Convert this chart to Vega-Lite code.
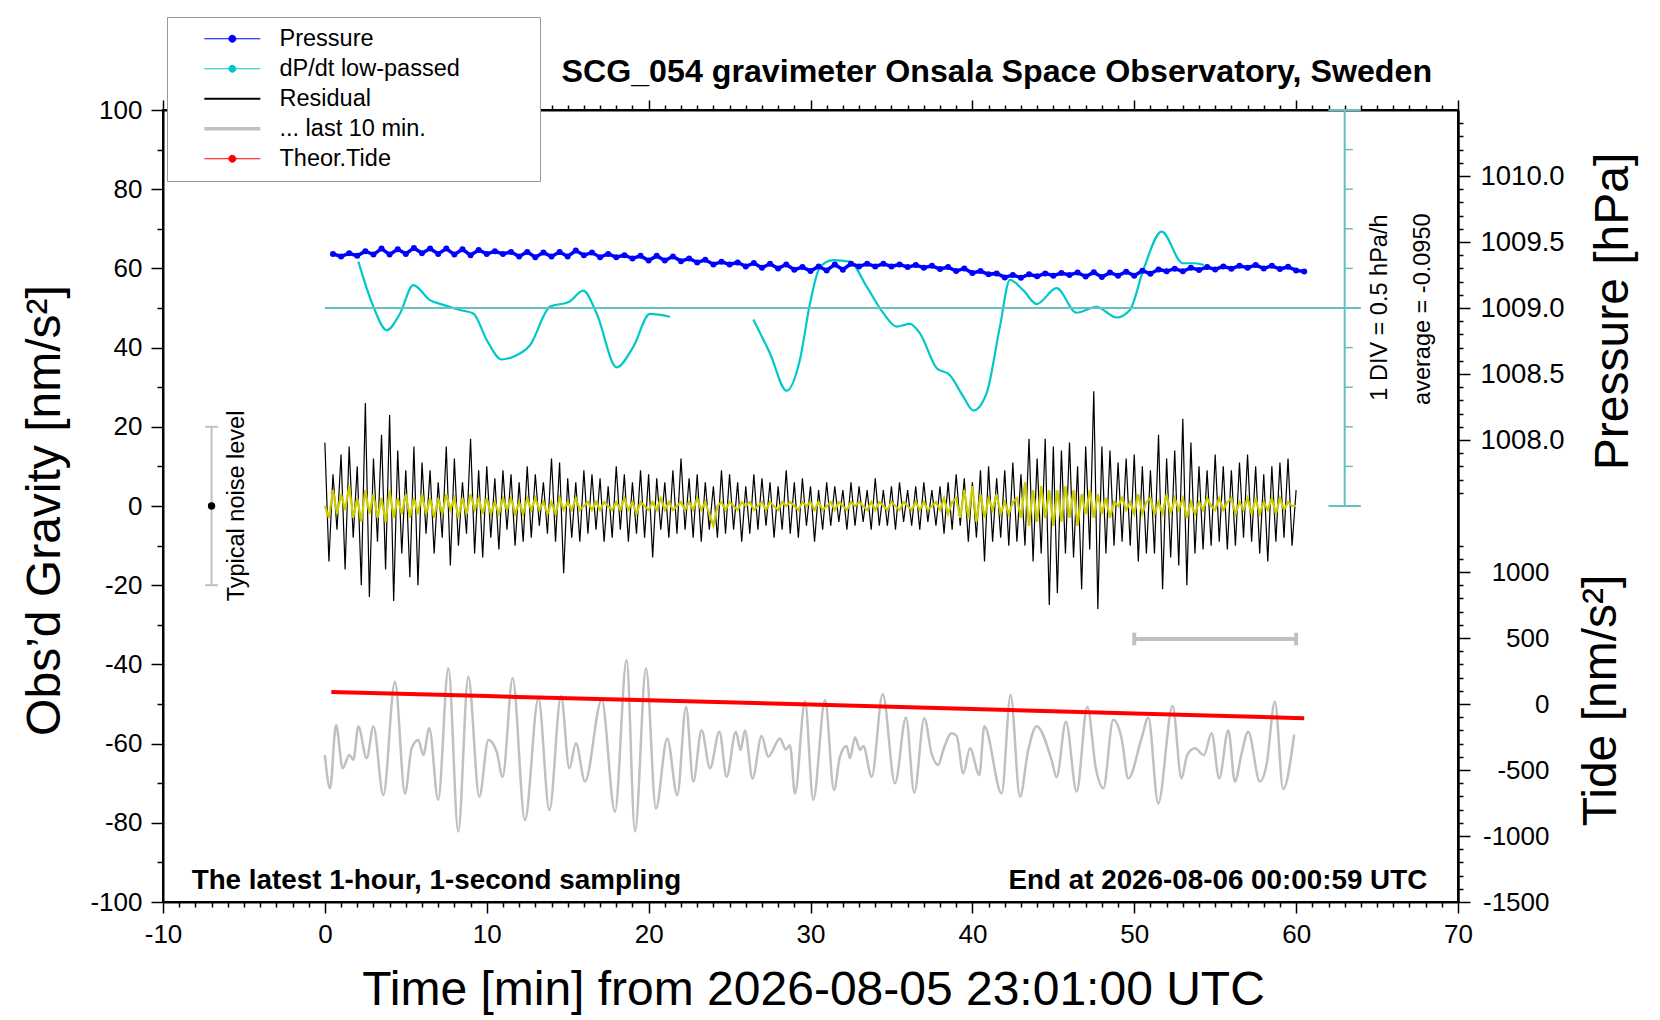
{
  "$schema": "https://vega.github.io/schema/vega-lite/v6.json",
  "width": 1295,
  "height": 792,
  "autosize": {"type": "none"},
  "padding": {"left": 163, "top": 110, "right": 202, "bottom": 118},
  "background": "white",
  "config": {
    "font": "Liberation Sans",
    "view": {"stroke": "black", "strokeWidth": 2},
    "axis": {
      "grid": false, "domainColor": "black", "domainWidth": 2, "tickColor": "black", "tickWidth": 1.5,
      "labelColor": "black", "labelFont": "Liberation Sans", "labelFontSize": 26,
      "titleColor": "black", "titleFont": "Liberation Sans", "titleFontSize": 48, "titleFontWeight": "normal"
    },
    "legend": {"labelFont": "Liberation Sans"}
  },
  "datasets": {
    "resid": [
      {"t":0,"r":16,"f":0},{"t":0.25,"r":-14,"f":-3},{"t":0.5,"r":8,"f":4},{"t":0.75,"r":-6,"f":-2},
      {"t":1,"r":13,"f":3},{"t":1.25,"r":-16,"f":-1},{"t":1.5,"r":15,"f":5},{"t":1.75,"r":-8,"f":-3},
      {"t":2,"r":10,"f":2},{"t":2.25,"r":-20,"f":-4},{"t":2.5,"r":26,"f":4},{"t":2.75,"r":-23,"f":-2},
      {"t":3,"r":12,"f":3},{"t":3.25,"r":-9,"f":-3},{"t":3.5,"r":18,"f":2},{"t":3.75,"r":-16,"f":-4},
      {"t":4,"r":23,"f":4},{"t":4.25,"r":-24,"f":-3},{"t":4.5,"r":14,"f":2},{"t":4.75,"r":-12,"f":-2},
      {"t":5,"r":9,"f":3},{"t":5.25,"r":-18,"f":-3},{"t":5.5,"r":15,"f":2},{"t":5.75,"r":-20,"f":-2},
      {"t":6,"r":11,"f":3},{"t":6.25,"r":-7,"f":-2},{"t":6.5,"r":9,"f":2},{"t":6.75,"r":-12,"f":-3},
      {"t":7,"r":6,"f":2},{"t":7.25,"r":-8,"f":-2},{"t":7.5,"r":15,"f":3},{"t":7.75,"r":-15,"f":-1},
      {"t":8,"r":12,"f":2},{"t":8.25,"r":-10,"f":-3},{"t":8.5,"r":6,"f":2},{"t":8.75,"r":-7,"f":-2},
      {"t":9,"r":17,"f":3},{"t":9.25,"r":-12,"f":-1},{"t":9.5,"r":9,"f":2},{"t":9.75,"r":-13,"f":-2},
      {"t":10,"r":10,"f":2},{"t":10.25,"r":-8,"f":-2},{"t":10.5,"r":7,"f":1},{"t":10.75,"r":-11,"f":-2},
      {"t":11,"r":9,"f":2},{"t":11.25,"r":-6,"f":-1},{"t":11.5,"r":8,"f":2},{"t":11.75,"r":-10,"f":-2},
      {"t":12,"r":6,"f":1},{"t":12.25,"r":-9,"f":-2},{"t":12.5,"r":10,"f":2},{"t":12.75,"r":-8,"f":-1},
      {"t":13,"r":8,"f":2},{"t":13.25,"r":-5,"f":-1},{"t":13.5,"r":6,"f":1},{"t":13.75,"r":-7,"f":-2},
      {"t":14,"r":12,"f":1},{"t":14.25,"r":-9,"f":-2},{"t":14.5,"r":11,"f":2},{"t":14.75,"r":-17,"f":-1},
      {"t":15,"r":7,"f":1},{"t":15.25,"r":-8,"f":-1},{"t":15.5,"r":6,"f":2},{"t":15.75,"r":-9,"f":-1},
      {"t":16,"r":9,"f":0},{"t":16.25,"r":-7,"f":1},{"t":16.5,"r":8,"f":-1},{"t":16.75,"r":-6,"f":1},
      {"t":17,"r":7,"f":-1},{"t":17.25,"r":-9,"f":1},{"t":17.5,"r":5,"f":0},{"t":17.75,"r":-8,"f":-1},
      {"t":18,"r":10,"f":1},{"t":18.25,"r":-6,"f":-1},{"t":18.5,"r":8,"f":2},{"t":18.75,"r":-9,"f":-1},
      {"t":19,"r":6,"f":1},{"t":19.25,"r":-7,"f":-2},{"t":19.5,"r":9,"f":1},{"t":19.75,"r":-8,"f":0},
      {"t":20,"r":8,"f":-1},{"t":20.25,"r":-13,"f":1},{"t":20.5,"r":7,"f":-1},{"t":20.75,"r":-6,"f":2},
      {"t":21,"r":6,"f":-1},{"t":21.25,"r":-8,"f":1},{"t":21.5,"r":9,"f":-1},{"t":21.75,"r":-7,"f":0},
      {"t":22,"r":12,"f":1},{"t":22.25,"r":-6,"f":-1},{"t":22.5,"r":7,"f":1},{"t":22.75,"r":-8,"f":-1},
      {"t":23,"r":8,"f":2},{"t":23.25,"r":-9,"f":-1},{"t":23.5,"r":6,"f":1},{"t":23.75,"r":-6,"f":-2},
      {"t":24,"r":5,"f":-5},{"t":24.25,"r":-8,"f":0},{"t":24.5,"r":9,"f":1},{"t":24.75,"r":-7,"f":-1},
      {"t":25,"r":8,"f":1},{"t":25.25,"r":-6,"f":0},{"t":25.5,"r":6,"f":-1},{"t":25.75,"r":-9,"f":1},
      {"t":26,"r":5,"f":0},{"t":26.25,"r":-7,"f":1},{"t":26.5,"r":8,"f":-1},{"t":26.75,"r":-6,"f":0},
      {"t":27,"r":7,"f":1},{"t":27.25,"r":-5,"f":-1},{"t":27.5,"r":6,"f":1},{"t":27.75,"r":-8,"f":0},
      {"t":28,"r":5,"f":-1},{"t":28.25,"r":-6,"f":1},{"t":28.5,"r":9,"f":0},{"t":28.75,"r":-7,"f":1},
      {"t":29,"r":6,"f":0},{"t":29.25,"r":-8,"f":-1},{"t":29.5,"r":7,"f":1},{"t":29.75,"r":-5,"f":0},
      {"t":30,"r":5,"f":1},{"t":30.25,"r":-9,"f":-1},{"t":30.5,"r":4,"f":1},{"t":30.75,"r":-6,"f":-1},
      {"t":31,"r":6,"f":0},{"t":31.25,"r":-5,"f":1},{"t":31.5,"r":5,"f":-1},{"t":31.75,"r":-4,"f":1},
      {"t":32,"r":4,"f":0},{"t":32.25,"r":-6,"f":-1},{"t":32.5,"r":6,"f":1},{"t":32.75,"r":-5,"f":0},
      {"t":33,"r":5,"f":1},{"t":33.25,"r":-4,"f":0},{"t":33.5,"r":4,"f":-1},{"t":33.75,"r":-6,"f":1},
      {"t":34,"r":7,"f":-1},{"t":34.25,"r":-5,"f":1},{"t":34.5,"r":4,"f":0},{"t":34.75,"r":-5,"f":-1},
      {"t":35,"r":5,"f":1},{"t":35.25,"r":-6,"f":0},{"t":35.5,"r":6,"f":-1},{"t":35.75,"r":-4,"f":1},
      {"t":36,"r":4,"f":0},{"t":36.25,"r":-5,"f":-1},{"t":36.5,"r":5,"f":1},{"t":36.75,"r":-6,"f":-1},
      {"t":37,"r":6,"f":1},{"t":37.25,"r":-4,"f":-1},{"t":37.5,"r":4,"f":0},{"t":37.75,"r":-5,"f":1},
      {"t":38,"r":5,"f":-1},{"t":38.25,"r":-7,"f":2},{"t":38.5,"r":6,"f":-2},{"t":38.75,"r":-6,"f":1},
      {"t":39,"r":8,"f":2},{"t":39.25,"r":-5,"f":-3},{"t":39.5,"r":7,"f":4},{"t":39.75,"r":-9,"f":-3},
      {"t":40,"r":6,"f":5},{"t":40.25,"r":-8,"f":-4},{"t":40.5,"r":9,"f":3},{"t":40.75,"r":-14,"f":-3},
      {"t":41,"r":10,"f":2},{"t":41.25,"r":-9,"f":-1},{"t":41.5,"r":7,"f":3},{"t":41.75,"r":-8,"f":-2},
      {"t":42,"r":9,"f":1},{"t":42.25,"r":-10,"f":-2},{"t":42.5,"r":11,"f":1},{"t":42.75,"r":-9,"f":2},
      {"t":43,"r":8,"f":-3},{"t":43.25,"r":-10,"f":6},{"t":43.5,"r":17,"f":-5},{"t":43.75,"r":-14,"f":4},
      {"t":44,"r":12,"f":-4},{"t":44.25,"r":-12,"f":5},{"t":44.5,"r":17,"f":-3},{"t":44.75,"r":-25,"f":4},
      {"t":45,"r":15,"f":-5},{"t":45.25,"r":-22,"f":4},{"t":45.5,"r":14,"f":-4},{"t":45.75,"r":-12,"f":5},
      {"t":46,"r":16,"f":-3},{"t":46.25,"r":-13,"f":4},{"t":46.5,"r":10,"f":-5},{"t":46.75,"r":-21,"f":3},
      {"t":47,"r":15,"f":-2},{"t":47.25,"r":-11,"f":4},{"t":47.5,"r":29,"f":-3},{"t":47.75,"r":-26,"f":3},
      {"t":48,"r":15,"f":-2},{"t":48.25,"r":-12,"f":2},{"t":48.5,"r":14,"f":-3},{"t":48.75,"r":-10,"f":1},
      {"t":49,"r":11,"f":0},{"t":49.25,"r":-9,"f":2},{"t":49.5,"r":12,"f":-1},{"t":49.75,"r":-10,"f":1},
      {"t":50,"r":13,"f":-2},{"t":50.25,"r":-14,"f":3},{"t":50.5,"r":10,"f":-2},{"t":50.75,"r":-12,"f":1},
      {"t":51,"r":9,"f":2},{"t":51.25,"r":-12,"f":-2},{"t":51.5,"r":18,"f":1},{"t":51.75,"r":-21,"f":-2},
      {"t":52,"r":12,"f":3},{"t":52.25,"r":-13,"f":-2},{"t":52.5,"r":14,"f":2},{"t":52.75,"r":-15,"f":-1},
      {"t":53,"r":22,"f":2},{"t":53.25,"r":-20,"f":-3},{"t":53.5,"r":16,"f":1},{"t":53.75,"r":-12,"f":-2},
      {"t":54,"r":10,"f":1},{"t":54.25,"r":-11,"f":-1},{"t":54.5,"r":9,"f":2},{"t":54.75,"r":-10,"f":0},
      {"t":55,"r":13,"f":-1},{"t":55.25,"r":-9,"f":2},{"t":55.5,"r":10,"f":-1},{"t":55.75,"r":-11,"f":1},
      {"t":56,"r":9,"f":2},{"t":56.25,"r":-10,"f":-2},{"t":56.5,"r":11,"f":1},{"t":56.75,"r":-8,"f":-1},
      {"t":57,"r":13,"f":2},{"t":57.25,"r":-9,"f":-2},{"t":57.5,"r":10,"f":2},{"t":57.75,"r":-12,"f":-2},
      {"t":58,"r":8,"f":1},{"t":58.25,"r":-14,"f":-1},{"t":58.5,"r":10,"f":2},{"t":58.75,"r":-9,"f":-2},
      {"t":59,"r":11,"f":2},{"t":59.25,"r":-8,"f":-1},{"t":59.5,"r":12,"f":1},{"t":59.75,"r":-10,"f":0},
      {"t":60,"r":4,"f":0}
    ],
    "gray": [
      {"t":0,"g":-62.9},{"t":0.32,"g":-71.3},{"t":0.69,"g":-55.3},{"t":1.1,"g":-66.2},{"t":1.51,"g":-62.9},
      {"t":1.76,"g":-64.1},{"t":2.07,"g":-55.7},{"t":2.58,"g":-63.7},{"t":3.0,"g":-55.7},{"t":3.61,"g":-73.0},
      {"t":4.33,"g":-44.4},{"t":4.95,"g":-72.6},{"t":5.36,"g":-61.2},{"t":5.77,"g":-59.1},{"t":6.08,"g":-62.9},
      {"t":6.45,"g":-56.1},{"t":7.0,"g":-74.2},{"t":7.63,"g":-41.0},{"t":8.24,"g":-82.2},{"t":8.86,"g":-43.1},
      {"t":9.54,"g":-73.4},{"t":10.1,"g":-59.1},{"t":10.61,"g":-62.0},{"t":10.98,"g":-68.4},{"t":11.6,"g":-43.5},
      {"t":12.36,"g":-79.3},{"t":13.19,"g":-48.6},{"t":13.87,"g":-76.8},{"t":14.59,"g":-48.0},{"t":15.1,"g":-66.2},
      {"t":15.51,"g":-59.9},{"t":16.07,"g":-69.6},{"t":17.1,"g":-49.0},{"t":17.92,"g":-77.2},{"t":18.64,"g":-38.9},
      {"t":19.16,"g":-82.2},{"t":19.84,"g":-41.0},{"t":20.45,"g":-76.4},{"t":21.15,"g":-58.7},{"t":21.77,"g":-73.0},
      {"t":22.31,"g":-50.7},{"t":22.76,"g":-69.6},{"t":23.27,"g":-56.6},{"t":23.79,"g":-66.2},{"t":24.37,"g":-57.0},
      {"t":24.82,"g":-68.4},{"t":25.39,"g":-57.0},{"t":25.68,"g":-61.6},{"t":25.95,"g":-56.7},{"t":26.42,"g":-68.8},
      {"t":26.98,"g":-58.1},{"t":27.39,"g":-63.3},{"t":28.11,"g":-58.7},{"t":28.48,"g":-61.5},{"t":28.73,"g":-60.4},
      {"t":29.04,"g":-72.6},{"t":29.66,"g":-49.4},{"t":30.17,"g":-74.2},{"t":30.9,"g":-49.0},{"t":31.45,"g":-71.7},
      {"t":31.82,"g":-63.3},{"t":32.23,"g":-60.6},{"t":32.44,"g":-63.7},{"t":32.75,"g":-58.4},{"t":33.06,"g":-61.6},
      {"t":33.26,"g":-60.6},{"t":33.78,"g":-68.4},{"t":34.46,"g":-47.5},{"t":35.22,"g":-70.0},{"t":35.9,"g":-53.4},
      {"t":36.41,"g":-72.4},{"t":37.03,"g":-53.6},{"t":37.48,"g":-62.5},{"t":37.89,"g":-65.4},{"t":38.2,"g":-61.6},
      {"t":38.72,"g":-57.4},{"t":39.03,"g":-58.1},{"t":39.44,"g":-67.5},{"t":39.85,"g":-61.2},{"t":40.43,"g":-67.9},
      {"t":40.74,"g":-55.6},{"t":41.81,"g":-72.6},{"t":42.36,"g":-47.7},{"t":42.94,"g":-73.4},{"t":43.45,"g":-61.6},
      {"t":43.97,"g":-55.6},{"t":44.89,"g":-64.1},{"t":45.2,"g":-68.5},{"t":45.78,"g":-54.5},{"t":46.44,"g":-72.1},
      {"t":47.1,"g":-50.7},{"t":47.63,"g":-66.3},{"t":48.09,"g":-71.3},{"t":48.7,"g":-54.0},{"t":49.22,"g":-58.7},
      {"t":49.63,"g":-68.8},{"t":50.45,"g":-58.7},{"t":50.87,"g":-53.4},{"t":51.48,"g":-75.1},{"t":52.37,"g":-50.5},
      {"t":52.92,"g":-68.8},{"t":53.27,"g":-62.9},{"t":53.75,"g":-61.2},{"t":54.3,"g":-62.9},{"t":54.78,"g":-57.4},
      {"t":55.25,"g":-68.8},{"t":55.81,"g":-56.6},{"t":56.22,"g":-69.6},{"t":56.63,"g":-62.5},{"t":57.04,"g":-57.0},
      {"t":57.76,"g":-69.6},{"t":58.17,"g":-65.4},{"t":58.69,"g":-49.4},{"t":59.2,"g":-71.5},{"t":59.88,"g":-57.7}
    ],
    "dpdt": [
      {"t":2.07,"d":0.585,"seg":1},{"t":3.0,"d":0.015,"seg":1},{"t":3.82,"d":-0.28,"seg":1},{"t":4.64,"d":-0.07,"seg":1},
      {"t":5.46,"d":0.29,"seg":1},{"t":6.49,"d":0.1,"seg":1},{"t":7.32,"d":0.04,"seg":1},{"t":8.35,"d":-0.025,"seg":1},
      {"t":9.17,"d":-0.07,"seg":1},{"t":10.0,"d":-0.405,"seg":1},{"t":10.92,"d":-0.65,"seg":1},{"t":11.64,"d":-0.615,"seg":1},
      {"t":12.67,"d":-0.47,"seg":1},{"t":13.9,"d":0.015,"seg":1},{"t":15.1,"d":0.08,"seg":1},{"t":15.96,"d":0.22,"seg":1},
      {"t":16.79,"d":-0.07,"seg":1},{"t":18.02,"d":-0.75,"seg":1},{"t":19.05,"d":-0.49,"seg":1},{"t":20.08,"d":-0.075,"seg":1},
      {"t":21.32,"d":-0.11,"seg":1},
      {"t":26.47,"d":-0.145,"seg":2},{"t":27.5,"d":-0.575,"seg":2},{"t":28.52,"d":-1.045,"seg":2},{"t":29.35,"d":-0.65,"seg":2},
      {"t":29.97,"d":0.06,"seg":2},{"t":30.6,"d":0.52,"seg":2},{"t":31.4,"d":0.605,"seg":2},{"t":32.44,"d":0.585,"seg":2},
      {"t":33.47,"d":0.27,"seg":2},{"t":34.5,"d":-0.065,"seg":2},{"t":35.32,"d":-0.235,"seg":2},{"t":36.14,"d":-0.2,"seg":2},
      {"t":36.76,"d":-0.32,"seg":2},{"t":37.8,"d":-0.76,"seg":2},{"t":38.6,"d":-0.845,"seg":2},{"t":39.44,"d":-1.12,"seg":2},
      {"t":40.06,"d":-1.295,"seg":2},{"t":40.88,"d":-1.075,"seg":2},{"t":41.7,"d":-0.235,"seg":2},{"t":42.32,"d":0.355,"seg":2},
      {"t":43.14,"d":0.225,"seg":2},{"t":43.97,"d":0.05,"seg":2},{"t":45.2,"d":0.25,"seg":2},{"t":46.44,"d":-0.06,"seg":2},
      {"t":47.67,"d":0.015,"seg":2},{"t":48.9,"d":-0.12,"seg":2},{"t":49.73,"d":-0.025,"seg":2},{"t":50.56,"d":0.48,"seg":2},
      {"t":51.69,"d":0.965,"seg":2},{"t":53.0,"d":0.565,"seg":2},{"t":53.75,"d":0.565,"seg":2},{"t":54.3,"d":0.545,"seg":2}
    ],
    "press": [
      {"t":0.5,"p":1009.41},{"t":1.0,"p":1009.39},{"t":1.5,"p":1009.415},{"t":2.0,"p":1009.395},{"t":2.5,"p":1009.43},
      {"t":3.0,"p":1009.405},{"t":3.5,"p":1009.45},{"t":4.0,"p":1009.405},{"t":4.5,"p":1009.445},{"t":5.0,"p":1009.41},
      {"t":5.5,"p":1009.455},{"t":6.0,"p":1009.415},{"t":6.5,"p":1009.45},{"t":7.0,"p":1009.41},{"t":7.5,"p":1009.45},
      {"t":8.0,"p":1009.405},{"t":8.5,"p":1009.445},{"t":9.0,"p":1009.4},{"t":9.5,"p":1009.44},{"t":10.0,"p":1009.41},
      {"t":10.5,"p":1009.43},{"t":11.0,"p":1009.41},{"t":11.5,"p":1009.425},{"t":12.0,"p":1009.39},{"t":12.5,"p":1009.425},
      {"t":13.0,"p":1009.385},{"t":13.5,"p":1009.42},{"t":14.0,"p":1009.39},{"t":14.5,"p":1009.425},{"t":15.0,"p":1009.39},
      {"t":15.5,"p":1009.435},{"t":16.0,"p":1009.4},{"t":16.5,"p":1009.42},{"t":17.0,"p":1009.385},{"t":17.5,"p":1009.41},
      {"t":18.0,"p":1009.385},{"t":18.5,"p":1009.4},{"t":19.0,"p":1009.375},{"t":19.5,"p":1009.395},{"t":20.0,"p":1009.36},
      {"t":20.5,"p":1009.395},{"t":21.0,"p":1009.36},{"t":21.5,"p":1009.39},{"t":22.0,"p":1009.355},{"t":22.5,"p":1009.375},
      {"t":23.0,"p":1009.345},{"t":23.5,"p":1009.365},{"t":24.0,"p":1009.33},{"t":24.5,"p":1009.35},{"t":25.0,"p":1009.33},
      {"t":25.5,"p":1009.345},{"t":26.0,"p":1009.315},{"t":26.5,"p":1009.34},{"t":27.0,"p":1009.305},{"t":27.5,"p":1009.335},
      {"t":28.0,"p":1009.3},{"t":28.5,"p":1009.33},{"t":29.0,"p":1009.29},{"t":29.5,"p":1009.31},{"t":30.0,"p":1009.28},
      {"t":30.5,"p":1009.315},{"t":31.0,"p":1009.285},{"t":31.5,"p":1009.33},{"t":32.0,"p":1009.29},{"t":32.5,"p":1009.335},
      {"t":33.0,"p":1009.315},{"t":33.5,"p":1009.335},{"t":34.0,"p":1009.315},{"t":34.5,"p":1009.335},{"t":35.0,"p":1009.315},
      {"t":35.5,"p":1009.33},{"t":36.0,"p":1009.31},{"t":36.5,"p":1009.325},{"t":37.0,"p":1009.305},{"t":37.5,"p":1009.32},
      {"t":38.0,"p":1009.295},{"t":38.5,"p":1009.31},{"t":39.0,"p":1009.28},{"t":39.5,"p":1009.3},{"t":40.0,"p":1009.265},
      {"t":40.5,"p":1009.28},{"t":41.0,"p":1009.255},{"t":41.5,"p":1009.262},{"t":42.0,"p":1009.232},{"t":42.5,"p":1009.25},
      {"t":43.0,"p":1009.23},{"t":43.5,"p":1009.255},{"t":44.0,"p":1009.24},{"t":44.5,"p":1009.262},{"t":45.0,"p":1009.245},
      {"t":45.5,"p":1009.265},{"t":46.0,"p":1009.25},{"t":46.5,"p":1009.268},{"t":47.0,"p":1009.238},{"t":47.5,"p":1009.27},
      {"t":48.0,"p":1009.235},{"t":48.5,"p":1009.268},{"t":49.0,"p":1009.245},{"t":49.5,"p":1009.275},{"t":50.0,"p":1009.245},
      {"t":50.5,"p":1009.282},{"t":51.0,"p":1009.26},{"t":51.5,"p":1009.292},{"t":52.0,"p":1009.278},{"t":52.5,"p":1009.298},
      {"t":53.0,"p":1009.278},{"t":53.5,"p":1009.305},{"t":54.0,"p":1009.288},{"t":54.5,"p":1009.31},{"t":55.0,"p":1009.292},
      {"t":55.5,"p":1009.315},{"t":56.0,"p":1009.298},{"t":56.5,"p":1009.32},{"t":57.0,"p":1009.305},{"t":57.5,"p":1009.325},
      {"t":58.0,"p":1009.3},{"t":58.5,"p":1009.32},{"t":59.0,"p":1009.295},{"t":59.5,"p":1009.312},{"t":60.0,"p":1009.285},
      {"t":60.5,"p":1009.276}
    ],
    "tide": [
      {"t":0.4,"v":90},{"t":10,"v":60},{"t":20,"v":28},{"t":30,"v":-4},{"t":40,"v":-38},{"t":50,"v":-72},{"t":60.5,"v":-108}
    ]
  },
  "resolve": {"scale": {"x": "independent", "y": "independent"}},
  "layer": [
    {
      "data": {"name": "resid"},
      "mark": {"type": "line", "strokeWidth": 1.2},
      "encoding": {
        "x": {"field": "t", "type": "quantitative", "scale": {"domain": [-10, 70], "nice": false, "zero": false},
          "axis": {"orient": "bottom", "values": [-10, 0, 10, 20, 30, 40, 50, 60, 70], "tickSize": 11, "labelPadding": 8,
            "labelExpr": "datum.value + ''", "labelFlush": false, "labelOverlap": false,
            "title": "Time [min] from 2026-08-05 23:01:00 UTC", "titleX": 650, "titleY": 102, "titleAlign": "center",
            "titleBaseline": "alphabetic", "titleAngle": 0}},
        "y": {"field": "r", "type": "quantitative", "scale": {"domain": [-100, 100], "nice": false, "zero": false},
          "axis": {"orient": "left", "values": [-100, -80, -60, -40, -20, 0, 20, 40, 60, 80, 100], "tickSize": 12, "labelPadding": 9,
            "labelExpr": "datum.value + ''", "labelFlush": false, "labelOverlap": false,
            "title": "Obs’d Gravity [nm/s²]", "titleX": -104, "titleY": 400, "titleAngle": 270, "titleAlign": "center",
            "titleBaseline": "alphabetic"}},
        "color": {"datum": "Residual", "type": "nominal",
          "scale": {"domain": ["Pressure", "dP/dt low-passed", "Residual", "... last 10 min.", "Theor.Tide"],
            "range": ["#0000ff", "#00c8c8", "#000000", "#c0c0c0", "#ff0000"]},
          "legend": {
            "orient": "none", "legendX": 4, "legendY": -93,
            "title": " ", "titleOrient": "right", "titlePadding": 70, "titleFontSize": 10,
            "padding": 10, "rowPadding": 5, "labelFontSize": 23.5, "labelColor": "black", "labelLimit": 400,
            "labelOffset": 35.4, "symbolOffset": 43.6, "symbolSize": 100,
            "strokeColor": "#999999", "fillColor": "white",
            "encode": {"symbols": {"update": {
              "shape": {"signal": "datum.value === 'Residual' || datum.value === '... last 10 min.' ? 'M-1,0H1' : 'M-1,0H1M0.125,0A0.125,0.125,0,1,1,-0.125,0A0.125,0.125,0,1,1,0.125,0'"},
              "size": {"value": 3136},
              "fill": {"scale": "color", "field": "value"},
              "stroke": {"scale": "color", "field": "value"},
              "strokeWidth": {"signal": "datum.value === 'Residual' ? 2 : datum.value === '... last 10 min.' ? 3.5 : 1"},
              "opacity": {"value": 1}
            }}}
          }}
      }
    },
    {
      "data": {"name": "resid"},
      "mark": {"type": "line", "color": "#cccc00", "strokeWidth": 2.2},
      "encoding": {
        "x": {"field": "t", "type": "quantitative", "scale": {"domain": [-10, 70], "nice": false, "zero": false}, "axis": null},
        "y": {"field": "f", "type": "quantitative", "scale": {"domain": [-100, 100], "nice": false, "zero": false}, "axis": null}
      }
    },
    {
      "data": {"name": "gray"},
      "mark": {"type": "line", "strokeWidth": 2.5, "interpolate": "monotone"},
      "encoding": {
        "x": {"field": "t", "type": "quantitative", "scale": {"domain": [-10, 70], "nice": false, "zero": false}, "axis": null},
        "y": {"field": "g", "type": "quantitative", "scale": {"domain": [-100, 100], "nice": false, "zero": false}, "axis": null},
        "color": {"datum": "... last 10 min.", "type": "nominal",
          "scale": {"domain": ["Pressure", "dP/dt low-passed", "Residual", "... last 10 min.", "Theor.Tide"],
            "range": ["#0000ff", "#00c8c8", "#000000", "#c0c0c0", "#ff0000"]}, "legend": null}
      }
    },
    {
      "data": {"values": [{"lo": -20, "hi": 20}]},
      "mark": {"type": "rule", "color": "#c0c0c0", "strokeWidth": 2},
      "encoding": {
        "x": {"datum": -7, "type": "quantitative", "scale": {"domain": [-10, 70], "nice": false, "zero": false}, "axis": null},
        "y": {"field": "lo", "type": "quantitative", "scale": {"domain": [-100, 100], "nice": false, "zero": false}, "axis": null},
        "y2": {"field": "hi"}
      }
    },
    {
      "data": {"values": [{"n": -20}, {"n": 20}]},
      "mark": {"type": "rule", "color": "#c0c0c0", "strokeWidth": 2},
      "encoding": {
        "x": {"datum": -7.4, "type": "quantitative", "scale": {"domain": [-10, 70], "nice": false, "zero": false}, "axis": null},
        "x2": {"datum": -6.6},
        "y": {"field": "n", "type": "quantitative", "scale": {"domain": [-100, 100], "nice": false, "zero": false}, "axis": null}
      }
    },
    {
      "data": {"values": [{}]},
      "mark": {"type": "point", "filled": true, "color": "black", "size": 55, "opacity": 1},
      "encoding": {
        "x": {"datum": -7, "type": "quantitative", "scale": {"domain": [-10, 70], "nice": false, "zero": false}, "axis": null},
        "y": {"datum": 0, "type": "quantitative", "scale": {"domain": [-100, 100], "nice": false, "zero": false}, "axis": null}
      }
    },
    {
      "data": {"values": [{"a": 50, "b": 60}]},
      "mark": {"type": "rule", "color": "#c0c0c0", "strokeWidth": 4},
      "encoding": {
        "x": {"field": "a", "type": "quantitative", "scale": {"domain": [-10, 70], "nice": false, "zero": false}, "axis": null},
        "x2": {"field": "b"},
        "y": {"datum": -33.6, "type": "quantitative", "scale": {"domain": [-100, 100], "nice": false, "zero": false}, "axis": null}
      }
    },
    {
      "data": {"values": [{"e": 50}, {"e": 60}]},
      "mark": {"type": "rule", "color": "#c0c0c0", "strokeWidth": 4},
      "encoding": {
        "x": {"field": "e", "type": "quantitative", "scale": {"domain": [-10, 70], "nice": false, "zero": false}, "axis": null},
        "y": {"datum": -35.2, "type": "quantitative", "scale": {"domain": [-100, 100], "nice": false, "zero": false}, "axis": null},
        "y2": {"datum": -32}
      }
    },
    {
      "data": {"values": [{}]},
      "mark": {"type": "text", "font": "Liberation Sans", "fontSize": 23.5, "angle": 270, "align": "center", "baseline": "alphabetic", "color": "black"},
      "encoding": {
        "x": {"datum": -5.0, "type": "quantitative", "scale": {"domain": [-10, 70], "nice": false, "zero": false}, "axis": null},
        "y": {"datum": 0, "type": "quantitative", "scale": {"domain": [-100, 100], "nice": false, "zero": false}, "axis": null},
        "text": {"value": "Typical noise level"}
      }
    },
    {
      "data": {"values": [{}]},
      "mark": {"type": "text", "font": "Liberation Sans", "fontSize": 23.5, "angle": 270, "align": "center", "baseline": "alphabetic", "color": "black"},
      "encoding": {
        "x": {"datum": 65.62, "type": "quantitative", "scale": {"domain": [-10, 70], "nice": false, "zero": false}, "axis": null},
        "y": {"datum": 50.1, "type": "quantitative", "scale": {"domain": [-100, 100], "nice": false, "zero": false}, "axis": null},
        "text": {"value": "1 DIV = 0.5 hPa/h"}
      }
    },
    {
      "data": {"values": [{}]},
      "mark": {"type": "text", "font": "Liberation Sans", "fontSize": 23.5, "angle": 270, "align": "center", "baseline": "alphabetic", "color": "black"},
      "encoding": {
        "x": {"datum": 68.26, "type": "quantitative", "scale": {"domain": [-10, 70], "nice": false, "zero": false}, "axis": null},
        "y": {"datum": 49.7, "type": "quantitative", "scale": {"domain": [-100, 100], "nice": false, "zero": false}, "axis": null},
        "text": {"value": "average = -0.0950"}
      }
    },
    {
      "data": {"values": [{}]},
      "mark": {"type": "text", "font": "Liberation Sans", "fontSize": 27.8, "fontWeight": "bold", "align": "left", "baseline": "alphabetic", "color": "black"},
      "encoding": {
        "x": {"datum": -8.23, "type": "quantitative", "scale": {"domain": [-10, 70], "nice": false, "zero": false}, "axis": null},
        "y": {"datum": -96.7, "type": "quantitative", "scale": {"domain": [-100, 100], "nice": false, "zero": false}, "axis": null},
        "text": {"value": "The latest 1-hour, 1-second sampling"}
      }
    },
    {
      "data": {"values": [{}]},
      "mark": {"type": "text", "font": "Liberation Sans", "fontSize": 27.8, "fontWeight": "bold", "align": "right", "baseline": "alphabetic", "color": "black"},
      "encoding": {
        "x": {"datum": 68.1, "type": "quantitative", "scale": {"domain": [-10, 70], "nice": false, "zero": false}, "axis": null},
        "y": {"datum": -96.7, "type": "quantitative", "scale": {"domain": [-100, 100], "nice": false, "zero": false}, "axis": null},
        "text": {"value": "End at 2026-08-06 00:00:59 UTC"}
      }
    },
    {
      "data": {"values": [{}]},
      "mark": {"type": "text", "font": "Liberation Sans", "fontSize": 32.2, "fontWeight": "bold", "align": "right", "baseline": "alphabetic", "color": "black"},
      "encoding": {
        "x": {"datum": 68.4, "type": "quantitative", "scale": {"domain": [-10, 70], "nice": false, "zero": false}, "axis": null},
        "y": {"datum": 107.1, "type": "quantitative", "scale": {"domain": [-100, 100], "nice": false, "zero": false}, "axis": null},
        "text": {"value": "SCG_054 gravimeter Onsala Space Observatory, Sweden"}
      }
    },
    {
      "data": {"name": "dpdt"},
      "mark": {"type": "line", "strokeWidth": 2.2, "interpolate": "monotone"},
      "encoding": {
        "x": {"field": "t", "type": "quantitative", "scale": {"domain": [-10, 70], "nice": false, "zero": false}, "axis": null},
        "y": {"field": "d", "type": "quantitative", "scale": {"domain": [-7.5, 2.5], "nice": false, "zero": false}, "axis": null},
        "detail": {"field": "seg"},
        "color": {"datum": "dP/dt low-passed", "type": "nominal",
          "scale": {"domain": ["Pressure", "dP/dt low-passed", "Residual", "... last 10 min.", "Theor.Tide"],
            "range": ["#0000ff", "#00c8c8", "#000000", "#c0c0c0", "#ff0000"]}, "legend": null}
      }
    },
    {
      "data": {"values": [{}]},
      "mark": {"type": "rule", "color": "#66c0c0", "strokeWidth": 2},
      "encoding": {
        "x": {"datum": 0, "type": "quantitative", "scale": {"domain": [-10, 70], "nice": false, "zero": false}, "axis": null},
        "x2": {"datum": 64},
        "y": {"datum": 0, "type": "quantitative", "scale": {"domain": [-7.5, 2.5], "nice": false, "zero": false}, "axis": null}
      }
    },
    {
      "data": {"values": [{}]},
      "mark": {"type": "rule", "color": "#66c0c0", "strokeWidth": 2},
      "encoding": {
        "x": {"datum": 63, "type": "quantitative", "scale": {"domain": [-10, 70], "nice": false, "zero": false}, "axis": null},
        "y": {"datum": -2.5, "type": "quantitative", "scale": {"domain": [-7.5, 2.5], "nice": false, "zero": false}, "axis": null},
        "y2": {"datum": 2.5}
      }
    },
    {
      "data": {"values": [{"d": -2}, {"d": -1.5}, {"d": -1}, {"d": -0.5}, {"d": 0.5}, {"d": 1}, {"d": 1.5}, {"d": 2}]},
      "mark": {"type": "rule", "color": "#66c0c0", "strokeWidth": 1.5},
      "encoding": {
        "x": {"datum": 63, "type": "quantitative", "scale": {"domain": [-10, 70], "nice": false, "zero": false}, "axis": null},
        "x2": {"datum": 63.5},
        "y": {"field": "d", "type": "quantitative", "scale": {"domain": [-7.5, 2.5], "nice": false, "zero": false}, "axis": null}
      }
    },
    {
      "data": {"values": [{"d": -2.5}, {"d": 2.5}]},
      "mark": {"type": "rule", "color": "#66c0c0", "strokeWidth": 2},
      "encoding": {
        "x": {"datum": 62, "type": "quantitative", "scale": {"domain": [-10, 70], "nice": false, "zero": false}, "axis": null},
        "x2": {"datum": 64},
        "y": {"field": "d", "type": "quantitative", "scale": {"domain": [-7.5, 2.5], "nice": false, "zero": false}, "axis": null}
      }
    },
    {
      "data": {"name": "press"},
      "mark": {"type": "line", "strokeWidth": 3.5},
      "encoding": {
        "x": {"field": "t", "type": "quantitative", "scale": {"domain": [-10, 70], "nice": false, "zero": false}, "axis": null},
        "y": {"field": "p", "type": "quantitative", "scale": {"domain": [1004.5, 1010.5], "nice": false, "zero": false},
          "axis": {"orient": "right", "values": [1008, 1008.5, 1009, 1009.5, 1010], "tickSize": 12, "labelPadding": 10, "labelFontSize": 27.5,
            "labelExpr": "format(datum.value, '.1f')", "labelFlush": false, "labelOverlap": false,
            "title": "Pressure [hPa]", "titleX": 169.5, "titleY": 201, "titleAngle": 270, "titleAlign": "center",
            "titleBaseline": "alphabetic"}},
        "color": {"datum": "Pressure", "type": "nominal",
          "scale": {"domain": ["Pressure", "dP/dt low-passed", "Residual", "... last 10 min.", "Theor.Tide"],
            "range": ["#0000ff", "#00c8c8", "#000000", "#c0c0c0", "#ff0000"]}, "legend": null}
      }
    },
    {
      "data": {"name": "press"},
      "mark": {"type": "point", "filled": true, "color": "#0000ff", "size": 36, "opacity": 1},
      "encoding": {
        "x": {"field": "t", "type": "quantitative", "scale": {"domain": [-10, 70], "nice": false, "zero": false}, "axis": null},
        "y": {"field": "p", "type": "quantitative", "scale": {"domain": [1004.5, 1010.5], "nice": false, "zero": false}, "axis": null}
      }
    },
    {
      "data": {"name": "tide"},
      "mark": {"type": "line", "strokeWidth": 4},
      "encoding": {
        "x": {"field": "t", "type": "quantitative", "scale": {"domain": [-10, 70], "nice": false, "zero": false}, "axis": null},
        "y": {"field": "v", "type": "quantitative", "scale": {"domain": [-1500, 4500], "nice": false, "zero": false},
          "axis": {"orient": "right", "values": [-1500, -1000, -500, 0, 500, 1000], "tickSize": 12, "labelPadding": 79, "labelAlign": "right",
            "labelExpr": "datum.value + ''", "labelFlush": false, "labelOverlap": false,
            "title": "Tide [nm/s²]", "titleX": 157, "titleY": 590, "titleAngle": 270, "titleAlign": "center",
            "titleBaseline": "alphabetic"}},
        "color": {"datum": "Theor.Tide", "type": "nominal",
          "scale": {"domain": ["Pressure", "dP/dt low-passed", "Residual", "... last 10 min.", "Theor.Tide"],
            "range": ["#0000ff", "#00c8c8", "#000000", "#c0c0c0", "#ff0000"]}, "legend": null}
      }
    },
    {
      "data": {"values": [{"a": 0}]},
      "mark": {"type": "point", "opacity": 0},
      "encoding": {
        "x": {"field": "a", "type": "quantitative", "scale": {"domain": [-10, 70], "nice": false, "zero": false},
          "axis": {"orient": "bottom", "values": [-9,-8,-7,-6,-5,-4,-3,-2,-1,1,2,3,4,5,6,7,8,9,11,12,13,14,15,16,17,18,19,21,22,23,24,25,26,27,28,29,31,32,33,34,35,36,37,38,39,41,42,43,44,45,46,47,48,49,51,52,53,54,55,56,57,58,59,61,62,63,64,65,66,67,68,69],
            "tickSize": 5, "labels": false, "domain": false, "title": null}},
        "y": {"field": "a", "type": "quantitative", "scale": {"domain": [-100, 100], "nice": false, "zero": false},
          "axis": {"orient": "left", "values": [-90, -70, -50, -30, -10, 10, 30, 50, 70, 90], "tickSize": 6, "labels": false, "domain": false, "title": null}}
      }
    },
    {
      "data": {"values": [{"a": 0, "p": 1009}]},
      "mark": {"type": "point", "opacity": 0},
      "encoding": {
        "x": {"field": "a", "type": "quantitative", "scale": {"domain": [-10, 70], "nice": false, "zero": false},
          "axis": {"orient": "top", "values": [-10, 0, 10, 20, 30, 40, 50, 60, 70], "tickSize": 10, "labels": false, "domain": true, "title": null}},
        "y": {"field": "p", "type": "quantitative", "scale": {"domain": [1004.5, 1010.5], "nice": false, "zero": false},
          "axis": {"orient": "right", "values": [1007.6,1007.7,1007.8,1007.9,1008.1,1008.2,1008.3,1008.4,1008.6,1008.7,1008.8,1008.9,1009.1,1009.2,1009.3,1009.4,1009.6,1009.7,1009.8,1009.9,1010.1,1010.2,1010.3,1010.4],
            "tickSize": 5, "labels": false, "domain": false, "title": null}}
      }
    },
    {
      "data": {"values": [{"a": 0, "v": 0}]},
      "mark": {"type": "point", "opacity": 0},
      "encoding": {
        "x": {"field": "a", "type": "quantitative", "scale": {"domain": [-10, 70], "nice": false, "zero": false},
          "axis": {"orient": "top", "values": [-9,-8,-7,-6,-5,-4,-3,-2,-1,1,2,3,4,5,6,7,8,9,11,12,13,14,15,16,17,18,19,21,22,23,24,25,26,27,28,29,31,32,33,34,35,36,37,38,39,41,42,43,44,45,46,47,48,49,51,52,53,54,55,56,57,58,59,61,62,63,64,65,66,67,68,69],
            "tickSize": 5, "labels": false, "domain": false, "title": null}},
        "y": {"field": "v", "type": "quantitative", "scale": {"domain": [-1500, 4500], "nice": false, "zero": false},
          "axis": {"orient": "right", "values": [-1400,-1300,-1200,-1100,-900,-800,-700,-600,-400,-300,-200,-100,100,200,300,400,600,700,800,900,1100,1200],
            "tickSize": 5, "labels": false, "domain": false, "title": null}}
      }
    }
  ]
}
